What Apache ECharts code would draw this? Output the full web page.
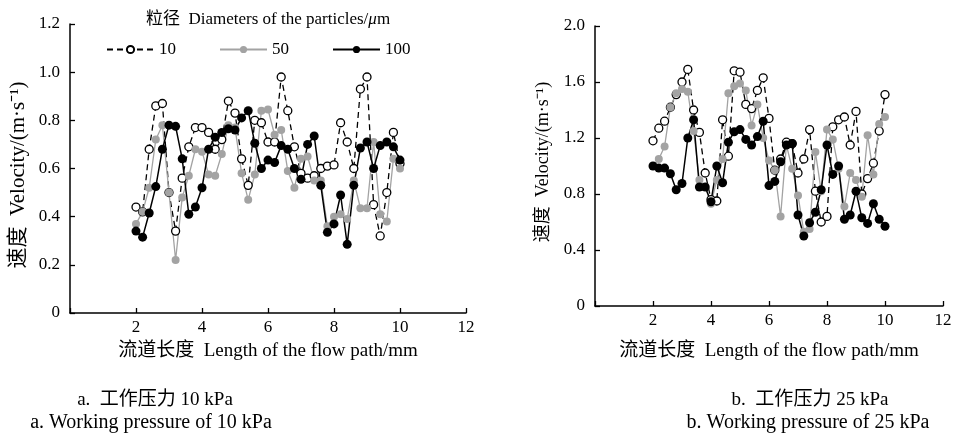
<!DOCTYPE html>
<html>
<head>
  <meta charset="utf-8">
  <title>Velocity along flow path</title>
  <script src="https://cdn.jsdelivr.net/npm/echarts@6/dist/echarts.min.js"></script>
  <style>
    html, body { margin: 0; padding: 0; background: #fff; }
    #chart { width: 955px; height: 436px; }
  </style>
</head>
<body>
  <div id="chart"></div>
  <script>
    // flow path positions (mm), same for every series
    var pathX = [2.0, 2.2, 2.4, 2.6, 2.8, 3.0, 3.2, 3.4, 3.6, 3.8,
                 4.0, 4.2, 4.4, 4.6, 4.8, 5.0, 5.2, 5.4, 5.6, 5.8,
                 6.0, 6.2, 6.4, 6.6, 6.8, 7.0, 7.2, 7.4, 7.6, 7.8,
                 8.0, 8.2, 8.4, 8.6, 8.8, 9.0, 9.2, 9.4, 9.6, 9.8, 10.0];

    // a. 10 kPa
    var a10 = [0.44, 0.42, 0.68, 0.86, 0.87, 0.50, 0.34, 0.56, 0.69, 0.77,
               0.77, 0.75, 0.68, 0.72, 0.88, 0.83, 0.64, 0.53, 0.80, 0.79,
               0.71, 0.71, 0.98, 0.84, 0.69, 0.58, 0.56, 0.57, 0.60, 0.61,
               0.615, 0.79, 0.71, 0.60, 0.93, 0.98, 0.45, 0.32, 0.50, 0.75, 0.62];
    var a50 = [0.37, 0.42, 0.52, 0.72, 0.78, 0.50, 0.22, 0.48, 0.57, 0.68,
               0.67, 0.575, 0.57, 0.66, 0.78, 0.77, 0.58, 0.47, 0.575, 0.84,
               0.845, 0.74, 0.76, 0.59, 0.52, 0.64, 0.65, 0.55, 0.55, 0.36,
               0.40, 0.41, 0.39, 0.55, 0.435, 0.435, 0.71, 0.41, 0.38, 0.64, 0.60];
    var a100 = [0.34, 0.315, 0.415, 0.525, 0.68, 0.78, 0.775, 0.64, 0.41, 0.44,
                0.52, 0.68, 0.73, 0.75, 0.765, 0.76, 0.81, 0.84, 0.705, 0.60,
                0.635, 0.625, 0.695, 0.68, 0.60, 0.555, 0.70, 0.735, 0.53, 0.335,
                0.37, 0.49, 0.285, 0.53, 0.685, 0.71, 0.60, 0.695, 0.71, 0.69, 0.635];

    // b. 25 kPa
    var b10 = [1.18, 1.27, 1.32, 1.42, 1.51, 1.60, 1.69, 1.40, 1.24, 0.95,
               0.76, 0.75, 1.33, 1.07, 1.68, 1.67, 1.44, 1.41, 1.54, 1.63,
               1.34, 0.97, 1.05, 1.17, 1.16, 0.95, 1.05, 1.26, 0.82, 0.60,
               0.64, 1.28, 1.33, 1.35, 1.15, 1.39, 0.80, 0.91, 1.02, 1.25, 1.51];
    var b50 = [1.00, 1.05, 1.14, 1.42, 1.52, 1.55, 1.53, 1.25, 0.90, 0.85,
               0.73, 0.90, 1.05, 1.52, 1.57, 1.59, 1.54, 1.29, 1.44, 1.20,
               1.04, 0.97, 0.64, 1.15, 0.98, 0.79, 0.53, 0.55, 1.10, 0.82,
               1.26, 1.19, 0.98, 0.71, 0.95, 0.90, 0.78, 1.22, 0.94, 1.30, 1.35];
    var b100 = [1.00, 0.985, 0.985, 0.945, 0.83, 0.875, 1.20, 1.33, 0.85, 0.85,
                0.745, 1.00, 0.88, 1.17, 1.245, 1.26, 1.19, 1.15, 1.21, 1.32,
                0.86, 0.89, 1.03, 1.15, 1.16, 0.65, 0.50, 0.595, 0.67, 0.83,
                1.15, 0.94, 1.00, 0.62, 0.65, 0.82, 0.63, 0.59, 0.73, 0.62, 0.57];

    var seriesNames = ['10', '50', '100'];

    var FONT = "'Liberation Serif', 'Noto Sans CJK SC', serif";

    function pairs(vals) {
      var out = [];
      for (var i = 0; i < vals.length; i++) {
        out.push([pathX[i], vals[i]]);
      }
      return out;
    }

    // look of the three particle sizes
    var looks = {
      '10': { line: { color: '#000', width: 1.3, type: [6, 4] }, item: { color: '#fff', borderColor: '#000', borderWidth: 1.3 }, size: 8 },
      '50': { line: { color: '#a3a3a3', width: 1.3, type: 'solid' }, item: { color: '#a3a3a3', borderColor: '#a3a3a3', borderWidth: 0 }, size: 8 },
      '100': { line: { color: '#000', width: 1.5, type: 'solid' }, item: { color: '#000', borderColor: '#000', borderWidth: 0 }, size: 9 }
    };

    function makeSeries(name, vals, idx) {
      var lk = looks[name];
      return {
        name: name,
        type: 'line',
        xAxisIndex: idx,
        yAxisIndex: idx,
        data: pairs(vals),
        symbol: 'circle',
        symbolSize: lk.size,
        showAllSymbol: true,
        lineStyle: lk.line,
        itemStyle: lk.item,
        animation: false,
        emphasis: { disabled: true }
      };
    }

    function xAxisCfg(idx, gap) {
      return {
        type: 'value',
        gridIndex: idx,
        min: 0, max: 12, interval: 2,
        name: '流道长度  Length of the flow path/mm',
        nameLocation: 'middle',
        nameGap: gap,
        nameTextStyle: { fontFamily: FONT, fontSize: 19, color: '#000' },
        axisLine: { lineStyle: { color: '#000', width: 1.5 } },
        axisTick: { inside: true, length: 5, lineStyle: { color: '#000', width: 1.3 } },
        axisLabel: {
          fontFamily: FONT, fontSize: 17, color: '#000', margin: 6,
          formatter: function (v) { return v === 0 ? '' : String(v); }
        },
        splitLine: { show: false }
      };
    }

    function yAxisCfg(idx, max, step) {
      return {
        type: 'value',
        gridIndex: idx,
        min: 0, max: max, interval: step,
        axisLine: { show: true, lineStyle: { color: '#000', width: 1.5 } },
        axisTick: { show: true, inside: true, length: 5, lineStyle: { color: '#000', width: 1.3 } },
        axisLabel: {
          fontFamily: FONT, fontSize: 17, color: '#000', margin: 10,
          formatter: function (v) { return v === 0 ? '0' : v.toFixed(1); }
        },
        splitLine: { show: false }
      };
    }

    var chart = echarts.init(document.getElementById('chart'), null, { renderer: 'canvas' });

    var option = {
      backgroundColor: '#fff',
      animation: false,
      title: {
        text: '粒径  Diameters of the particles/{i|μ}m',
        left: 141, top: 6,
        textStyle: {
          fontFamily: FONT, fontSize: 17, fontWeight: 'normal', color: '#000',
          rich: { i: { fontFamily: FONT, fontSize: 17, fontStyle: 'italic', color: '#000' } }
        }
      },
      legend: {
        data: seriesNames,
        left: 101, top: 36,
        itemWidth: 47, itemHeight: 9, itemGap: 43,
        textStyle: { fontFamily: FONT, fontSize: 17, color: '#000' },
        selectedMode: false
      },
      grid: [
        { left: 70, top: 24, width: 396, height: 289 },
        { left: 595, top: 26, width: 348, height: 280 }
      ],
      xAxis: [xAxisCfg(0, 29), xAxisCfg(1, 36)],
      yAxis: [yAxisCfg(0, 1.2, 0.2), yAxisCfg(1, 2.0, 0.4)],
      series: [
        makeSeries('10', a10, 0),
        makeSeries('50', a50, 0),
        makeSeries('100', a100, 0),
        makeSeries('10', b10, 1),
        makeSeries('50', b50, 1),
        makeSeries('100', b100, 1)
      ],
      graphic: [
        { type: 'text', x: 18, y: 175, rotation: Math.PI / 2,
          style: { text: '速度  Velocity/(m·s⁻¹)', font: '21px ' + FONT, fill: '#000', textAlign: 'center', textVerticalAlign: 'middle' } },
        { type: 'text', x: 543, y: 162, rotation: Math.PI / 2,
          style: { text: '速度  Velocity/(m·s⁻¹)', font: '18px ' + FONT, fill: '#000', textAlign: 'center', textVerticalAlign: 'middle' } },
        { type: 'text', x: 155, y: 400,
          style: { text: 'a.  工作压力 10 kPa', font: '19px ' + FONT, fill: '#000', textAlign: 'center', textVerticalAlign: 'middle' } },
        { type: 'text', x: 151, y: 423,
          style: { text: 'a. Working pressure of 10 kPa', font: '20px ' + FONT, fill: '#000', textAlign: 'center', textVerticalAlign: 'middle' } },
        { type: 'text', x: 810, y: 400,
          style: { text: 'b.  工作压力 25 kPa', font: '19px ' + FONT, fill: '#000', textAlign: 'center', textVerticalAlign: 'middle' } },
        { type: 'text', x: 808, y: 423,
          style: { text: 'b. Working pressure of 25 kPa', font: '20px ' + FONT, fill: '#000', textAlign: 'center', textVerticalAlign: 'middle' } }
      ]
    };

    chart.setOption(option);
  </script>
</body>
</html>
